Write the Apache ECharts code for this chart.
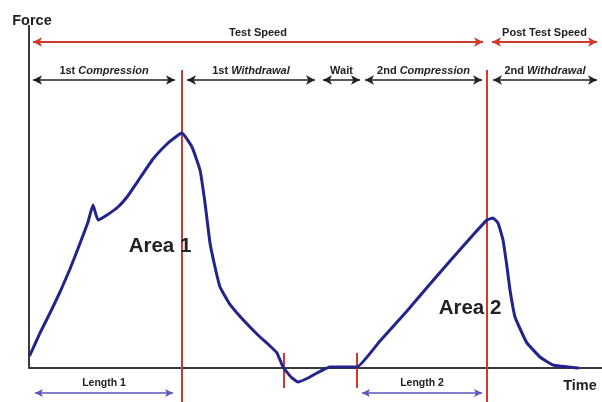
<!DOCTYPE html>
<html>
<head>
<meta charset="utf-8">
<script src="https://cdn.jsdelivr.net/npm/echarts@6/dist/echarts.min.js"></script>
<style>html,body{margin:0;padding:0;background:#fff}#c{width:602px;height:402px}</style>
</head>
<body>
<div id="c"></div>
<script>
// Force-time curve (time units, force units)
const curveTime  = [1, 11, 21, 31, 41, 50, 59, 64, 69, 78, 89, 98, 111, 124, 138, 148, 153,
                    163, 171, 176, 181, 186, 191, 200, 208, 220, 231, 240, 248, 254, 262, 269, 279, 288, 301, 315, 328,
                    351, 378, 401, 421, 444, 458, 464, 469, 474, 478, 481, 486, 493, 498, 511, 524, 549];
const curveForce = [13, 35, 55, 76, 99, 122, 146, 163, 148, 153, 161, 171, 190, 209, 224, 232, 235,
                    221, 198, 165, 125, 101, 81, 65, 55, 42, 31, 23, 15, 1, -9, -14, -10, -5, 1, 1, 1,
                    27, 57, 84, 107, 133, 148, 150, 145, 128, 101, 78, 51, 35, 25, 11, 3, 0];

// Speed bands (top red arrows)
const speedNames = ['Test Speed', 'Post Test Speed'];
const speedStart = [4, 463];
const speedEnd   = [454, 568];
const speedLevel = 326;

// Test phases (black arrows)
const phaseOrdinal = ['1st', '1st', '', '2nd', '2nd'];
const phaseWord    = ['Compression', 'Withdrawal', 'Wait', 'Compression', 'Withdrawal'];
const phaseStart   = [4, 158, 294, 336, 464];
const phaseEnd     = [146, 286, 331, 453, 568];
const phaseLevel   = 288;

// Event markers
const peakTimes = [153, 458];
const peakTop = 298, peakBottom = -34;
const contactTimes = [255, 328];
const contactTop = 15, contactBottom = -20;

// Lengths (blue arrows)
const lengthNames = ['Length 1', 'Length 2'];
const lengthStart = [6, 333];
const lengthEnd   = [144, 453];
const lengthLevel = -25;

// Area labels
const areaNames = ['Area 1', 'Area 2'];
const areaTime  = [131, 441];
const areaForce = [122, 60];

const FONT = '"Liberation Sans", Arial, Helvetica, sans-serif';
const RED = '#cf3a2f';
const INK = '#222222';
const NAVY = '#23238c';
const PURPLE = '#5a55b8';

const chart = echarts.init(document.getElementById('c'), null, {renderer: 'canvas'});

const axisLineData = [[{coord: [0, 0]}, {coord: [0, 343]}]];

const speedData = speedNames.map((n, i) => [
  {coord: [speedStart[i], speedLevel], label: {show: true, formatter: n, position: 'insideMiddleTop', distance: 4,
    color: INK, fontSize: 11, fontWeight: 'bold', fontFamily: FONT}},
  {coord: [speedEnd[i], speedLevel]}
]);

const phaseData = phaseWord.map((w, i) => [
  {coord: [phaseStart[i], phaseLevel], label: {show: true,
    formatter: phaseOrdinal[i] ? phaseOrdinal[i] + ' {i|' + w + '}' : w,
    position: 'insideMiddleTop', distance: 4, color: INK, fontSize: 11, fontWeight: 'bold', fontFamily: FONT,
    rich: {i: {fontStyle: 'italic', fontWeight: 'bold', fontSize: 11, color: INK, fontFamily: FONT}}}},
  {coord: [phaseEnd[i], phaseLevel]}
]);

const peakData = peakTimes.map(t => [{coord: [t, peakTop]}, {coord: [t, peakBottom]}]);
const contactData = contactTimes.map(t => [{coord: [t, contactTop]}, {coord: [t, contactBottom]}]);

const lengthData = lengthNames.map((n, i) => [
  {coord: [lengthStart[i], lengthLevel], label: {show: true, formatter: n, position: 'insideMiddleTop', distance: 4,
    color: INK, fontSize: 10.5, fontWeight: 'bold', fontFamily: FONT}},
  {coord: [lengthEnd[i], lengthLevel]}
]);

const option = {
  animation: false,
  backgroundColor: '#fff',
  grid: {left: 29, right: 0, top: 22, bottom: 0},
  xAxis: {
    type: 'value', min: 0, max: 573,
    name: 'Time', nameLocation: 'end', nameGap: -22,
    nameTextStyle: {color: INK, fontSize: 14.5, fontWeight: 'bold', fontFamily: FONT, align: 'center', verticalAlign: 'top', padding: [10, 0, 0, 0]},
    axisLine: {show: true, onZero: true, lineStyle: {color: '#3a3a3a', width: 2}},
    axisTick: {show: false}, axisLabel: {show: false}, splitLine: {show: false}
  },
  yAxis: {
    type: 'value', min: -34, max: 346,
    name: 'Force', nameLocation: 'end', nameGap: -6,
    nameTextStyle: {color: INK, fontSize: 14.5, fontWeight: 'bold', fontFamily: FONT, align: 'center', padding: [0, 0, 0, 6]},
    axisLine: {show: false}, axisTick: {show: false}, axisLabel: {show: false}, splitLine: {show: false}
  },
  series: [
    {
      type: 'line', name: 'axis', data: [], silent: true,
      markLine: {silent: true, symbol: 'none', label: {show: false},
        lineStyle: {color: '#3a3a3a', width: 2, type: 'solid'}, data: axisLineData}
    },
    {
      type: 'line', name: 'speed', data: [], silent: true,
      markLine: {silent: true, symbol: ['arrow', 'arrow'], symbolSize: [7, 9],
        lineStyle: {color: RED, width: 2, type: 'solid'}, data: speedData}
    },
    {
      type: 'line', name: 'phases', data: [], silent: true,
      markLine: {silent: true, symbol: ['arrow', 'arrow'], symbolSize: [7, 9],
        lineStyle: {color: INK, width: 1.5, type: 'solid'}, data: phaseData}
    },
    {
      type: 'line', name: 'peaks', data: [], silent: true,
      markLine: {silent: true, symbol: 'none', label: {show: false},
        lineStyle: {color: RED, width: 2, type: 'solid'}, data: peakData.concat(contactData)}
    },
    {
      type: 'line', name: 'lengths', data: [], silent: true,
      markLine: {silent: true, symbol: ['arrow', 'arrow'], symbolSize: [6, 8],
        lineStyle: {color: PURPLE, width: 1.5, type: 'solid'}, data: lengthData}
    },
    {
      type: 'line', name: 'Force', silent: true,
      data: curveTime.map((t, i) => [t, curveForce[i]]),
      showSymbol: false, smooth: 0.12,
      lineStyle: {color: NAVY, width: 3, join: 'round', cap: 'round'},
      z: 5,
      markPoint: {
        silent: true, symbol: 'circle', symbolSize: 0,
        label: {show: true, position: 'inside', color: INK, fontSize: 20.5, fontWeight: 'bold', fontFamily: FONT,
          formatter: p => p.name},
        data: areaNames.map((n, i) => ({name: n, coord: [areaTime[i], areaForce[i]]}))
      }
    }
  ]
};
chart.setOption(option);
</script>
</body>
</html>
